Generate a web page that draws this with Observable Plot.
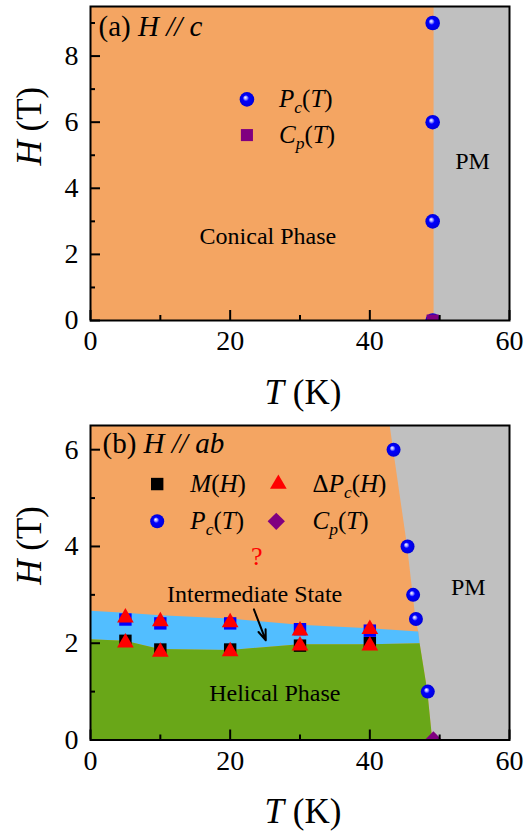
<!DOCTYPE html>
<html>
<head>
<meta charset="utf-8">
<script src="https://cdn.jsdelivr.net/npm/d3@7"></script>
<script src="https://cdn.jsdelivr.net/npm/@observablehq/plot@0.6"></script>
<style>
  html, body { margin: 0; padding: 0; background: #fff; }
  #chart { width: 526px; }
  #chart svg { display: block; }
</style>
</head>
<body>
<div id="chart"></div>
<script>
// ---------- shared ticks ----------
const xMajor = [0, 20, 40, 60];
const xMinor = [10, 30, 50];
const xTitle = "<i>T</i> (K)";
const yTitle = "<i>H</i> (T)";

// ---------- panel (a) H // c ----------
const aPcT = [49.0, 49.0, 49.0, 49.0];
const aPcH = [0, 3, 6, 9];
const aCpT = [49.0];
const aCpH = [0];
const aBoundaryT = [49.2, 49.2];
const aBoundaryH = [0, 9.5];
const aYMajor = [0, 2, 4, 6, 8];
const aYMinor = [1, 3, 5, 7, 9];
const aTitle = "(a) <i>H // c</i>";
const aLabels = ["Conical Phase", "PM"];
const aLabelT = [25.4, 54.7];
const aLabelH = [2.56, 4.82];
const aLegendText = ["<i>P</i><sub><i>c</i></sub>(<i>T</i>)", "<i>C</i><sub><i>p</i></sub>(<i>T</i>)"];
const aLegendMarkT = [22.4, 22.4];
const aLegendTextT = [27.0, 27.0];
const aLegendH = [6.69, 5.61];

// ---------- panel (b) H // ab ----------
const bPcT = [43.4, 45.4, 46.2, 46.6, 48.3];
const bPcH = [6.0, 4.0, 3.0, 2.5, 1.0];
const bCpT = [49.1];
const bCpH = [0];
const bFieldT = [5, 10, 20, 30, 40];
const bMUpperH = [2.49, 2.41, 2.41, 2.29, 2.26];
const bMLowerH = [2.05, 1.87, 1.87, 1.95, 2.00];
const bDPUpperH = [2.53, 2.45, 2.43, 2.26, 2.29];
const bDPLowerH = [2.01, 1.82, 1.83, 1.95, 1.95];
const bBoundaryT = [42.9, 43.4, 45.4, 46.2, 46.6, 47.0, 47.2, 48.3, 49.0];
const bBoundaryH = [6.5, 6.0, 4.0, 3.0, 2.5, 2.23, 1.99, 1.0, 0];
const bBandT = [0, 5, 10, 20, 30, 40, 47.0, 47.2];
const bBandTop = [2.66, 2.62, 2.57, 2.50, 2.37, 2.30, 2.23, 1.99];
const bBandBottom = [2.07, 2.04, 1.87, 1.85, 1.97, 1.97, 1.99, 1.99];
const bHelicalT = [0, 5, 10, 20, 30, 40, 47.2, 48.3, 49.0];
const bHelicalTop = [2.07, 2.04, 1.87, 1.85, 1.97, 1.97, 1.99, 1.0, 0];
const bYMajor = [0, 2, 4, 6];
const bYMinor = [1, 3, 5];
const bTitle = "(b) <i>H // ab</i>";
const bLabels = ["PM", "Intermediate State", "Helical Phase"];
const bLabelT = [54.1, 23.5, 26.4];
const bLabelH = [3.15, 3.01, 0.96];
const bQuestionT = [23.8];
const bQuestionH = [3.79];
const bArrowT = [23.4, 25.1];
const bArrowH = [2.70, 2.06];
const bLegendText = ["<i>M</i>(<i>H</i>)", "Δ<i>P</i><sub><i>c</i></sub>(<i>H</i>)", "<i>P</i><sub><i>c</i></sub>(<i>T</i>)", "<i>C</i><sub><i>p</i></sub>(<i>T</i>)"];
const bLegendTextT = [14.3, 31.8, 14.3, 31.8];
const bLegendTextH = [5.29, 5.29, 4.52, 4.52];

// ---------- colours ----------
const cOrange = "#F4A562", cGray = "#C0C0C0", cBand = "#52BEFF", cGreen = "#69A718";
const cPurple = "#800080", cRed = "#FF0000", cBlue = "#0000FF";

const W = 526, ML = 90, MR = 17;
const frameW = W - ML - MR;

function pts(T, H) { return T.map((t, i) => ({T: t, H: H[i]})); }

function axisMarks(yMajor, yMinor, frameH) {
  return [
    Plot.ruleX(xMajor, {x: d => d, insetTop: frameH - 10, strokeWidth: 2}),
    Plot.ruleX(xMinor, {x: d => d, insetTop: frameH - 5, strokeWidth: 2}),
    Plot.ruleY(yMajor, {y: d => d, insetRight: frameW - 10, strokeWidth: 2}),
    Plot.ruleY(yMinor, {y: d => d, insetRight: frameW - 5, strokeWidth: 2}),
    Plot.frame({stroke: "black", strokeWidth: 2}),
    Plot.axisX({ticks: xMajor, tickSize: 0, tickPadding: 10, fontSize: 28, label: null, tickFormat: d3.format("d")}),
    Plot.axisY({ticks: yMajor, tickSize: 0, tickPadding: 12, fontSize: 28, label: null, tickFormat: d3.format("d")}),
    Plot.text([xTitle], {text: d => d, frameAnchor: "bottom", lineAnchor: "bottom", dy: 83, dx: 3, fontSize: 35}),
    Plot.text([yTitle], {text: d => d, frameAnchor: "left", rotate: -90, lineAnchor: "bottom", dx: -50, dy: 2, fontSize: 35})
  ];
}

function addDefs(svg, id) {
  const defs = d3.select(svg).insert("defs", ":first-child");
  const g = defs.append("radialGradient").attr("id", id)
    .attr("cx", 0.5).attr("cy", 0.5).attr("r", 0.5).attr("fx", 0.38).attr("fy", 0.36);
  [[0, "#ffffff"], [0.22, "#9a9aff"], [0.42, "#0000ff"], [1, "#0000d8"]]
    .forEach(([o, c]) => g.append("stop").attr("offset", o).attr("stop-color", c));
}

function richify(svg) {
  const ns = "http://www.w3.org/2000/svg";
  svg.querySelectorAll("text").forEach(t => {
    const s = t.textContent;
    if (!s.includes("<")) return;
    t.textContent = "";
    let italic = false, sub = false;
    s.split(/(<\/?(?:i|sub)>)/).forEach(p => {
      if (p === "<i>") italic = true;
      else if (p === "</i>") italic = false;
      else if (p === "<sub>") sub = true;
      else if (p === "</sub>") sub = false;
      else if (p) {
        const ts = document.createElementNS(ns, "tspan");
        ts.textContent = p;
        if (italic) ts.setAttribute("font-style", "italic");
        if (sub) { ts.setAttribute("font-size", "70%"); ts.setAttribute("baseline-shift", "-0.33em"); }
        t.appendChild(ts);
      }
    });
  });
}

const style = {fontFamily: "'Liberation Serif', 'Times New Roman', serif", fontSize: "28px", color: "black", background: "transparent", overflow: "visible"};

// ---------- panel (a) ----------
const aTop = 6, aBottom = 90, aHeight = 410;
const chartA = Plot.plot({
  width: W, height: aHeight,
  marginLeft: ML, marginRight: MR, marginTop: aTop, marginBottom: aBottom,
  style,
  x: {domain: [0, 60]},
  y: {domain: [0, 9.5]},
  marks: [
    Plot.frame({fill: cGray}),
    Plot.areaX(pts(aBoundaryT, aBoundaryH), {x1: 0, x2: "T", y: "H", fill: cOrange}),
    Plot.text([aTitle], {text: d => d, frameAnchor: "top-left", textAnchor: "start", lineAnchor: "bottom", dx: 8, dy: 29, fontSize: 29}),
    Plot.text(aLabels, {text: d => d, x: (d, i) => aLabelT[i], y: (d, i) => aLabelH[i], fontSize: 24}),
    Plot.dot([0], {x: () => aLegendMarkT[0], y: () => aLegendH[0], r: 7.3, fill: "url(#balla)"}),
    Plot.dot([0], {x: () => aLegendMarkT[1], y: () => aLegendH[1], r: 6.8, symbol: "square", fill: cPurple}),
    Plot.text(aLegendText, {text: d => d, x: (d, i) => aLegendTextT[i], y: (d, i) => aLegendH[i], textAnchor: "start", fontSize: 25}),
    Plot.dot(pts(aPcT, aPcH), {x: "T", y: "H", r: 7.3, fill: "url(#balla)", clip: true}),
    Plot.dot(pts(aCpT, aCpH), {x: "T", y: "H", r: 6.8, symbol: "square", fill: cPurple, clip: true}),
    ...axisMarks(aYMajor, aYMinor, aHeight - aTop - aBottom)
  ]
});
addDefs(chartA, "balla");
richify(chartA);

// ---------- panel (b) ----------
const bTop = 15, bBottom = 94.5, bHeight = 424;
const chartB = Plot.plot({
  width: W, height: bHeight,
  marginLeft: ML, marginRight: MR, marginTop: bTop, marginBottom: bBottom,
  style,
  x: {domain: [0, 60]},
  y: {domain: [0, 6.5]},
  marks: [
    Plot.frame({fill: cGray}),
    Plot.areaX(pts(bBoundaryT, bBoundaryH), {x1: 0, x2: "T", y: "H", fill: cOrange}),
    Plot.areaY(bBandT.map((t, i) => ({T: t, lo: bBandBottom[i], hi: bBandTop[i]})), {x: "T", y1: "lo", y2: "hi", fill: cBand}),
    Plot.areaY(pts(bHelicalT, bHelicalTop), {x: "T", y1: 0, y2: "H", fill: cGreen}),
    Plot.text([bTitle], {text: d => d, frameAnchor: "top-left", textAnchor: "start", lineAnchor: "bottom", dx: 12, dy: 27, fontSize: 29}),
    Plot.text(bLabels, {text: d => d, x: (d, i) => bLabelT[i], y: (d, i) => bLabelH[i], fontSize: 24}),
    Plot.text(["?"], {text: d => d, x: () => bQuestionT[0], y: () => bQuestionH[0], fill: cRed, fontSize: 26}),
    Plot.arrow([0], {x1: () => bArrowT[0], y1: () => bArrowH[0], x2: () => bArrowT[1], y2: () => bArrowH[1], stroke: "black", strokeWidth: 2, headLength: 12, headAngle: 40}),
    // legend markers
    Plot.dot([0], {x: () => 9.55, y: () => bLegendTextH[0], r: 7, symbol: "square", fill: "black"}),
    Plot.dot([0], {x: () => 26.9, y: () => bLegendTextH[1], r: 6.2, symbol: "triangle", fill: cRed}),
    Plot.dot([0], {x: () => 9.55, y: () => bLegendTextH[2], r: 7, fill: "url(#ballb)"}),
    Plot.dot([0], {x: () => 26.6, y: () => bLegendTextH[3], r: 7.8, symbol: "diamond2", fill: cPurple}),
    Plot.text(bLegendText, {text: d => d, x: (d, i) => bLegendTextT[i], y: (d, i) => bLegendTextH[i], textAnchor: "start", fontSize: 25}),
    // data
    Plot.dot(pts(bFieldT, bMUpperH), {x: "T", y: "H", r: 7, symbol: "square", fill: cBlue}),
    Plot.dot(pts(bFieldT, bMLowerH), {x: "T", y: "H", r: 7, symbol: "square", fill: "black"}),
    Plot.dot(pts(bFieldT, bDPUpperH), {x: "T", y: "H", r: 6.2, symbol: "triangle", fill: cRed}),
    Plot.dot(pts(bFieldT, bDPLowerH), {x: "T", y: "H", r: 6.2, symbol: "triangle", fill: cRed}),
    Plot.dot(pts(bPcT, bPcH), {x: "T", y: "H", r: 7, fill: "url(#ballb)", clip: true}),
    Plot.dot(pts(bCpT, bCpH), {x: "T", y: "H", r: 7.8, symbol: "diamond2", fill: cPurple, clip: true}),
    ...axisMarks(bYMajor, bYMinor, bHeight - bTop - bBottom)
  ]
});
addDefs(chartB, "ballb");
richify(chartB);

document.getElementById("chart").append(chartA, chartB);
</script>
</body>
</html>
